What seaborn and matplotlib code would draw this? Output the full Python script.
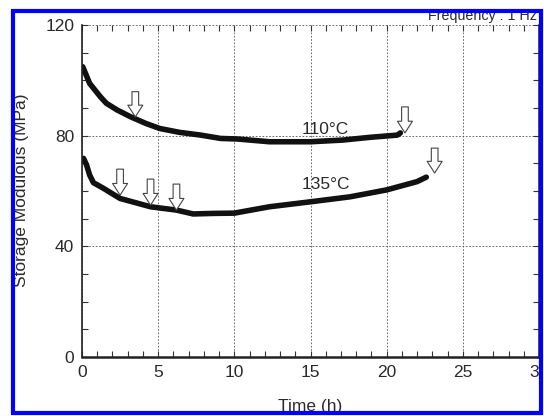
import pandas as pd
import matplotlib
matplotlib.use("Agg")
import matplotlib.pyplot as plt
import seaborn as sns
from matplotlib.patches import Rectangle
from matplotlib.ticker import MultipleLocator

# Data
t_110 = [0.05, 0.5, 1.2, 1.6, 2.3, 3.2, 4.2, 5.1, 6.4, 7.8, 9.1, 10.2, 12.3, 15.0, 17.1, 18.9, 20.7, 20.9]
mod_110 = [104.9, 98.9, 94.1, 91.7, 89.3, 86.8, 84.4, 82.6, 81.2, 80.2, 79.0, 78.8, 77.8, 77.8, 78.4, 79.4, 80.2, 81.0]

t_135 = [0.1, 0.3, 0.5, 0.75, 1.4, 2.5, 4.5, 6.2, 7.3, 8.6, 10.0, 12.3, 15.0, 17.6, 20.0, 22.0, 22.6]
mod_135 = [71.8, 69.4, 65.8, 63.0, 61.0, 57.3, 54.3, 53.1, 51.7, 51.9, 52.0, 54.3, 56.1, 57.9, 60.4, 63.4, 65.0]

# arrows: time, top of shaft, tip
arrow_t = [3.5, 21.2, 2.5, 4.5, 6.2, 23.15]
arrow_top = [95.9, 90.4, 67.9, 64.3, 62.5, 75.5]
arrow_tip = [86.8, 81.0, 58.5, 54.9, 53.1, 66.5]

curve_labels = ["110°C", "135°C"]
label_t = [16.0, 16.0]
label_y = [82.4, 62.5]

sns.set_style("ticks")
plt.rcParams["font.family"] = ["Liberation Sans", "DejaVu Sans"]
txt = "#2a2a2a"
fs = 12.5

fig = plt.figure(figsize=(5.44, 4.16), dpi=100)
ax = fig.add_axes([82 / 544, 59 / 416, 457 / 544, 332 / 416])

df = pd.concat([
    pd.DataFrame({"t": t_110, "mod": mod_110, "temp": "110"}),
    pd.DataFrame({"t": t_135, "mod": mod_135, "temp": "135"}),
])
sns.lineplot(data=df, x="t", y="mod", units="temp", estimator=None, color="#111111",
             lw=4.0, solid_capstyle="round", solid_joinstyle="round", ax=ax, legend=False)

for t, top, tip in zip(arrow_t, arrow_top, arrow_tip):
    ax.annotate("", xy=(t, tip), xytext=(t, top),
                arrowprops=dict(arrowstyle="simple,head_length=0.7,head_width=0.9,tail_width=0.4",
                                fc="white", ec="#444444", lw=0.8, mutation_scale=12,
                                shrinkA=0, shrinkB=0))

for lab, x, y in zip(curve_labels, label_t, label_y):
    ax.text(x, y, lab, ha="center", va="center", fontsize=fs, color=txt)

ax.set_xlim(0, 30)
ax.set_ylim(0, 120)
ax.xaxis.set_major_locator(MultipleLocator(5))
ax.xaxis.set_minor_locator(MultipleLocator(1))
ax.yaxis.set_major_locator(MultipleLocator(40))
ax.yaxis.set_minor_locator(MultipleLocator(10))
ax.grid(True, which="major", ls=(0, (2, 2)), lw=0.6, color="#555555")
ax.tick_params(which="both", direction="in", top=True, right=True, length=4,
               width=0.8, color="#333333", labelsize=fs, labelcolor=txt, pad=5.5)
ax.set_xlabel("")
ax.set_ylabel("")
ax.spines["top"].set_visible(False)
ax.spines["left"].set_linewidth(1.2)
ax.spines["bottom"].set_linewidth(1.8)
ax.spines["right"].set_linewidth(1.8)
for s in ax.spines.values():
    s.set_color("#222222")

fig.text(310 / 544, (416 - 399) / 416, "Time (h)", ha="center", va="top", fontsize=fs, color=txt)
fig.text(21.5 / 544, (416 - 190) / 416, "Storage Modulous (MPa)", rotation=90,
         ha="center", va="center", fontsize=fs, color=txt)
fig.text(537 / 544, (416 - 20) / 416, "Frequency : 1 Hz", ha="right", va="baseline",
         fontsize=10.3, color=txt)

# white surround and blue frame
x0, x1 = 12.5 / 544, 540.5 / 544
y0, y1 = (416 - 412.5) / 416, (416 - 10.5) / 416
for r in [(0, 0, x0, 1), (x1, 0, 1 - x1, 1), (0, 0, 1, y0), (0, y1, 1, 1 - y1)]:
    fig.patches.append(Rectangle((r[0], r[1]), r[2], r[3], transform=fig.transFigure,
                                 fc="white", ec="none", zorder=50))
fig.patches.append(Rectangle((x0, y0), x1 - x0, y1 - y0, transform=fig.transFigure,
                             fc="none", ec="#0000ff", lw=3.0, zorder=60))

fig.savefig("out.png", dpi=100)
